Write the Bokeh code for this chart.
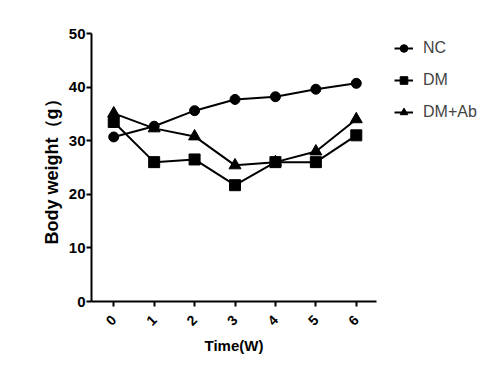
import math
from bokeh.plotting import figure
from bokeh.models import Legend, LegendItem, Range1d, FixedTicker
from bokeh.embed import file_html
from bokeh.resources import INLINE

weeks = [0, 1, 2, 3, 4, 5, 6]
nc = [30.7, 32.7, 35.6, 37.7, 38.2, 39.6, 40.7]
dm = [33.5, 26.0, 26.5, 21.7, 26.0, 26.0, 31.0]
dm_ab = [35.1, 32.3, 30.8, 25.4, 26.0, 28.0, 34.0]
y_ticks = [0, 10, 20, 30, 40, 50]

FONT = "Liberation Sans Narrow, Liberation Sans, Arial, sans-serif"

p = figure(frame_width=285, frame_height=268, output_backend="svg", toolbar_location=None,
           x_range=Range1d(-0.55, 6.5), y_range=Range1d(0, 50),
           min_border_left=91, min_border_top=33, min_border_bottom=61, min_border_right=0)
p.outline_line_color = None
p.xgrid.visible = False
p.ygrid.visible = False

for ax in (p.xaxis[0], p.yaxis[0]):
    ax.axis_line_width = 2
    ax.axis_line_color = "black"
    ax.major_tick_line_width = 2
    ax.major_tick_line_color = "black"
    ax.minor_tick_line_color = None
    ax.major_tick_in = 0
    ax.major_tick_out = 5
    ax.major_label_text_font = FONT
    ax.major_label_text_font_style = "bold"
    ax.major_label_text_color = "black"
    ax.axis_label_text_font = FONT
    ax.axis_label_text_font_style = "bold"
    ax.axis_label_text_color = "black"

p.xaxis.ticker = FixedTicker(ticks=weeks)
p.yaxis.ticker = FixedTicker(ticks=y_ticks)
p.xaxis.major_label_orientation = math.pi / 4
p.xaxis.major_label_text_font_size = "14px"
p.xaxis.major_label_standoff = 11
p.yaxis.major_label_text_font_size = "15px"
p.yaxis.major_label_standoff = 1
p.xaxis.axis_label = "Time(W)"
p.yaxis.axis_label = "Body weight（g）"
p.xaxis.axis_label_text_font_size = "15px"
p.yaxis.axis_label_text_font_size = "18px"
p.xaxis.axis_label_standoff = 4
p.yaxis.axis_label_standoff = 4

l1 = p.line(weeks, nc, line_width=2, color="black")
m1 = p.scatter(weeks, nc, marker="circle", size=10, color="black")
l2 = p.line(weeks, dm, line_width=2, color="black")
m2 = p.scatter(weeks, dm, marker="square", size=11, color="black")
l3 = p.line(weeks, dm_ab, line_width=2, color="black")
m3 = p.scatter(weeks, dm_ab, marker="triangle", size=12, color="black")

legend = Legend(items=[
    LegendItem(label="NC", renderers=[l1, m1]),
    LegendItem(label="DM", renderers=[l2, m2]),
    LegendItem(label="DM+Ab", renderers=[l3, m3]),
], location=(18, 179))
legend.border_line_color = None
legend.background_fill_alpha = 0
legend.label_text_font = FONT
legend.label_text_font_size = "16px"
legend.glyph_width = 19
legend.glyph_height = 20
legend.label_standoff = 10
legend.spacing = 12
legend.padding = 4
legend.margin = 18
p.add_layout(legend, "right")

open("out.html", "w").write(file_html(p, INLINE))
